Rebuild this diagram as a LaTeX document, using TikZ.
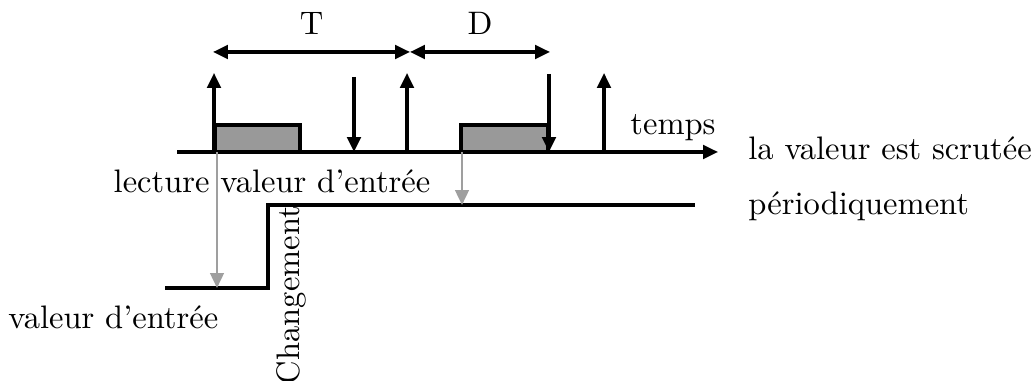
\documentclass[tikz,border=0pt]{standalone}
\usepackage{tikz}
\usetikzlibrary{arrows.meta}

\begin{document}
\begin{tikzpicture}[x=0.0108cm, y=-0.0108cm, line width=0.95pt,
    tip/.style={-{Triangle[length=4.6pt,width=4.2pt]}},
    twotips/.style={{Triangle[length=4.6pt,width=4.2pt]}-{Triangle[length=4.6pt,width=4.2pt]}},
    readbox/.style={draw=black, fill=gray!80},
    probe/.style={gray!75, line width=0.75pt, -{Triangle[length=4.6pt,width=4.2pt]}}]
    \useasboundingbox (0,0) rectangle (1033,381);

    % reading windows
    \draw[readbox] (215,152) rectangle (300,125);
    \draw[readbox] (461,152) rectangle (548,125);

    % time axis
    \coordinate (a0) at (177,152);
    \coordinate (a1) at (718,152);
    \draw[tip] (a0) -- (a1);
    \node (temps) at (673,128) {temps};

    % sampling instants
    \foreach \x in {214,407,604}
      \draw[tip] (\x,152) -- (\x,73);
    \draw[tip] (354,77) -- (354,152);
    \draw[tip] (549,74) -- (549,152);

    % period and delay
    \coordinate (p0) at (213,52);
    \coordinate (p1) at (410,52);
    \coordinate (p2) at (550,52);
    \draw[twotips] (p0) -- node[above=1.5pt] {T} (p1);
    \draw[twotips] (p1) -- node[above=1.5pt] {D} (p2);

    % input signal
    \draw (165,288) -- (268,288) -- (268,205) -- (695,205);

    % reading arrows
    \draw[probe] (217,152) -- (217,288);
    \draw[probe] (462,152) -- (462,205);

    % labels
    \node (lect) at (272,181) {lecture valeur d'entrée};
    \node[anchor=west] (entree) at (-4,317) {valeur d'entrée};
    \node[anchor=west] (scrut) at (736,148) {la valeur est scrutée};
    \node[anchor=west] (period) at (736,206) {périodiquement};
    \node[rotate=90] (change) at (291,295) {Changement};
\end{tikzpicture}
\end{document}
